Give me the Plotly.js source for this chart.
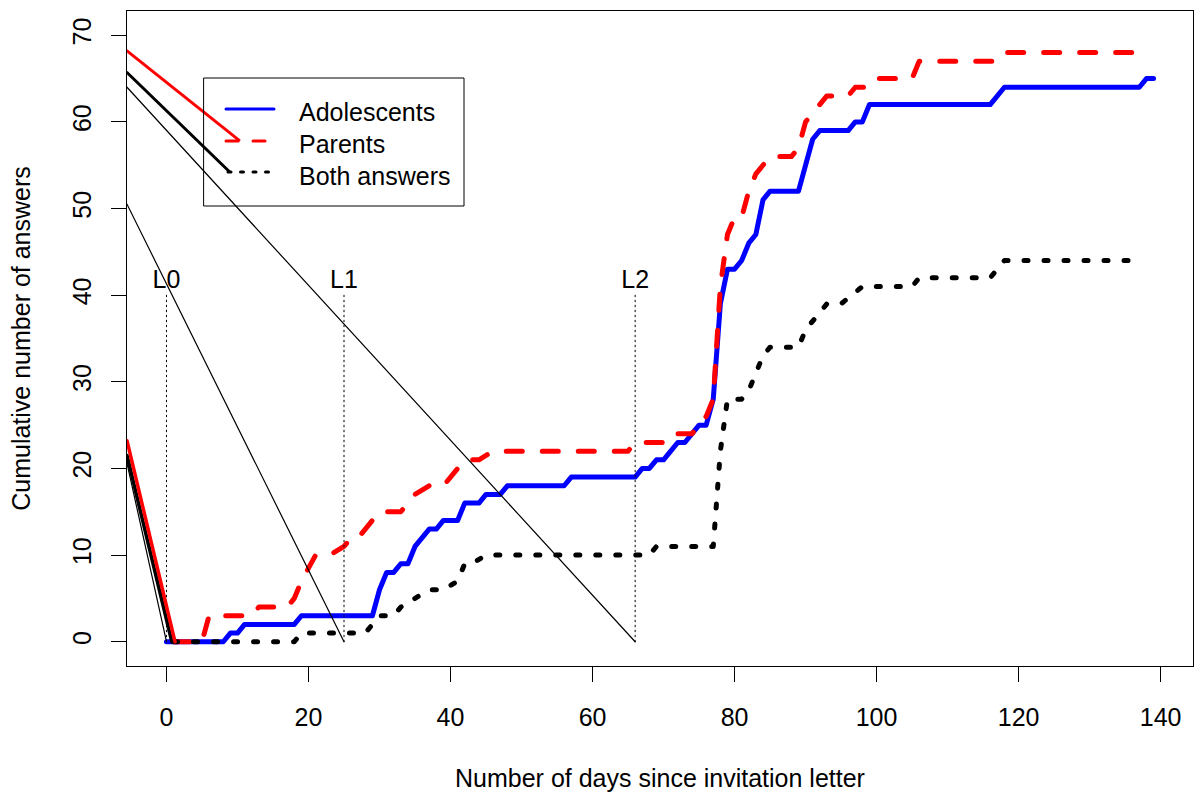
<!DOCTYPE html>
<html><head><meta charset="utf-8">
<script src="https://cdn.plot.ly/plotly-3.0.1.min.js"></script>
<style>html,body{margin:0;padding:0;background:#fff}#chart{width:1196px;height:794px}
#chart .scatterlayer path.js-line, #chart .shapelayer path{stroke-linecap:round !important;stroke-linejoin:round !important}</style>
</head><body><div id="chart"></div>
<script>
// ---- data ----
const adolDays = [0,8,9,10,11,18,19,29,30,31,32,33,34,35,37,38,39,41,42,44,45,47,48,56,57,66,67,68,69,70,72,73,75,76,77,78,79,80,81,82,83,84,85,89,91,92,96,97,98,99,116,118,137,138,139];
const adolCum  = [0,0,1,1,2,2,3,3,6,8,8,9,9,11,13,13,14,14,16,16,17,17,18,18,19,19,20,20,21,21,23,23,25,25,28,39,43,43,44,46,47,51,52,52,58,59,59,60,60,62,62,64,64,65,65];

const parDays = [1,5,6,12,13,17,18,19,21,23,25,26,27,29,30,31,33,35,37,39,41,42,44,46,65,66,70,71,74,75,76,77,78,79,80,81,82,83,85,88,89,90,91,93,96,97,99,100,105,106,117,118,138];
const parCum  = [0,0,3,3,4,4,5,7,10,10,11,12,12,14,14,15,15,17,18,18,20,21,21,22,22,23,23,24,24,25,26,28,41,47,49,49,52,54,56,56,57,60,61,63,63,64,64,65,65,67,67,68,68];

const bothDays = [1,18,19,28,29,30,32,33,35,37,39,41,42,43,45,68,69,77,78,79,81,82,83,84,85,89,90,92,93,95,98,105,106,116,118,136,137];
const bothCum  = [0,0,1,1,2,3,3,4,5,6,6,7,9,9,10,10,11,11,22,28,28,29,31,33,34,34,36,38,39,39,41,41,42,42,44,44,45];

// letters (days) and their labels
const letterDays = [0,25,66];
const letterLabels = ['L0','L1','L2'];
const letterTop = 40;
const labelY = 41.5;
// stray thin lines from the left edge down to each letter day
const strayLeftX = -5.56;
const strayStartY = [20.6, 50.5, 64.0];
// stray coloured segments visible in the reference
const strayRedTopX = [-5.56, 10.2],  strayRedTopY = [68.2, 57.9];
const strayBlkTopX = [-5.56, 8.8],   strayBlkTopY = [65.7, 54.3];
const strayRedLowX = [-5.56, 1.2],   strayRedLowY = [23.2, 0];
const strayBlkLowX = [-5.56, 0.75],  strayBlkLowY = [21.5, 0];

const xTicks = [0,20,40,60,80,100,120,140];
const yTicks = [0,10,20,30,40,50,60,70];
const seriesNames = ['Adolescents','Parents','Both answers'];

// ---- build traces ----
const FONT = 'Liberation Sans, Arial, Helvetica, sans-serif';
const traces = [];
traces.push({x: adolDays, y: adolCum, mode:'lines', name: seriesNames[0], line:{color:'#0000ff', width:5}, showlegend:false});
traces.push({x: parDays, y: parCum, mode:'lines', name: seriesNames[1], line:{color:'#ff0000', width:5, dash:'16px,20px'}, showlegend:false});
traces.push({x: bothDays, y: bothCum, mode:'lines', name: seriesNames[2], line:{color:'#000000', width:5, dash:'4px,16px'}, showlegend:false});

// dotted vertical letter lines
const vx = [], vy = [];
letterDays.forEach(d => { vx.push(d, d, null); vy.push(0, letterTop, null); });
traces.push({x: vx, y: vy, mode:'lines', line:{color:'#000', width:1, dash:'1.5px,3.5px'}, showlegend:false, hoverinfo:'skip'});
// letter labels
traces.push({x: letterDays, y: letterDays.map(()=>labelY), text: letterLabels, mode:'text', textposition:'middle center', textfont:{family:FONT, size:25, color:'#000'}, showlegend:false, cliponaxis:false});
// stray thin lines
const sx = [], sy = [];
letterDays.forEach((d,i) => { sx.push(strayLeftX, d, null); sy.push(strayStartY[i], 0, null); });
traces.push({x: sx, y: sy, mode:'lines', line:{color:'#000', width:1.2}, showlegend:false, hoverinfo:'skip'});
traces.push({x: strayBlkLowX, y: strayBlkLowY, mode:'lines', line:{color:'#000', width:3.5}, showlegend:false, hoverinfo:'skip'});
traces.push({x: strayRedLowX, y: strayRedLowY, mode:'lines', line:{color:'#ff0000', width:3.5}, showlegend:false, hoverinfo:'skip'});
traces.push({x: strayRedTopX, y: strayRedTopY, mode:'lines', line:{color:'#ff0000', width:3}, showlegend:false, hoverinfo:'skip'});
traces.push({x: strayBlkTopX, y: strayBlkTopY, mode:'lines', line:{color:'#000', width:3}, showlegend:false, hoverinfo:'skip'});

// ---- legend drawn manually ----
const PL=127, PR=1193, PT=11, PB=666;
const px = v => (v-PL)/(PR-PL);
const py = v => (PB-v)/(PB-PT);
const shapes = [
  {type:'rect', xref:'paper', yref:'paper', x0:px(204), x1:px(464), y0:py(78), y1:py(206), line:{color:'#000', width:1}, fillcolor:'rgba(0,0,0,0)'},
  {type:'line', xref:'paper', yref:'paper', x0:px(226), x1:px(274), y0:py(109), y1:py(109), line:{color:'#0000ff', width:3}},
  {type:'line', xref:'paper', yref:'paper', x0:px(226), x1:px(274), y0:py(141), y1:py(141), line:{color:'#ff0000', width:3, dash:'12px,15px'}},
  {type:'line', xref:'paper', yref:'paper', x0:px(228), x1:px(274), y0:py(172), y1:py(172), line:{color:'#000', width:3, dash:'3px,9.5px'}}
];
const legendY = [112, 144, 176];
const annotations = seriesNames.map((n,i) => ({xref:'paper', yref:'paper', x:px(297), y:py(legendY[i]), xanchor:'left', yanchor:'middle', text:n, showarrow:false, font:{family:FONT, size:25, color:'#000'}}));

const layout = {
  width:1196, height:794,
  margin:{l:PL, r:1196-PR, t:PT, b:794-PB},
  paper_bgcolor:'#fff', plot_bgcolor:'#fff',
  font:{family:FONT, size:25, color:'#000'},
  showlegend:false,
  xaxis:{range:[-5.56,144.56], tickvals:xTicks, ticktext:xTicks.map(String), ticks:'outside', ticklen:15, tickwidth:1, tickcolor:'#000',
         showline:true, mirror:true, linecolor:'#000', linewidth:1, showgrid:false, zeroline:false,
         tickfont:{family:FONT, size:25}, ticklabelstandoff:14,
         title:{text:'Number of days since invitation letter', font:{family:FONT, size:25}, standoff:39}, automargin:false},
  yaxis:{range:[-2.8,72.8], tickvals:yTicks, ticktext:yTicks.map(String), ticks:'outside', ticklen:15, tickwidth:1, tickcolor:'#000',
         showline:true, mirror:true, linecolor:'#000', linewidth:1, showgrid:false, zeroline:false, tickangle:-90,
         tickfont:{family:FONT, size:25}, ticklabelstandoff:10,
         title:{text:'Cumulative number of answers', font:{family:FONT, size:25}, standoff:30}, automargin:false},
  shapes: shapes,
  annotations: annotations
};
Plotly.newPlot('chart', traces, layout, {staticPlot:true, displayModeBar:false});
</script></body></html>
